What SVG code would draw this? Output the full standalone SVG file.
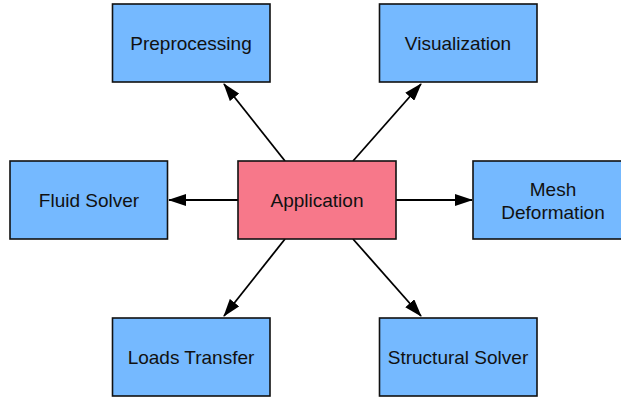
<svg xmlns="http://www.w3.org/2000/svg" width="621" height="398" viewBox="0 0 621 398">
  <style>
    .box { stroke: #111; stroke-width: 1.6; }
    .comp { fill: #75B9FF; }
    .app { fill: #F7788A; }
    text { font-family: "Liberation Sans", Arial, Helvetica, sans-serif; font-size: 19px; fill: #111; text-anchor: middle; }
    .edge { stroke: #000; stroke-width: 1.8; fill: none; marker-end: url(#arrow); }
  </style>
  <defs>
    <marker id="arrow" viewBox="0 0 18 12" refX="17" refY="6" markerWidth="18" markerHeight="12" markerUnits="userSpaceOnUse" orient="auto">
      <path d="M0,0 L18,6 L0,12 Z" fill="#000"/>
    </marker>
  </defs>

  <g id="connectors">
    <line class="edge" x1="285" y1="161" x2="224" y2="84"/>
    <line class="edge" x1="353" y1="161" x2="421" y2="84"/>
    <line class="edge" x1="238" y1="200" x2="169" y2="200"/>
    <line class="edge" x1="396" y1="200" x2="472" y2="200"/>
    <line class="edge" x1="285" y1="239" x2="224" y2="316"/>
    <line class="edge" x1="353" y1="239" x2="421" y2="316"/>
  </g>

  <g id="preprocessing">
    <rect class="box comp" x="112.5" y="4" width="157.5" height="78"/>
    <text x="191" y="50">Preprocessing</text>
  </g>
  <g id="visualization">
    <rect class="box comp" x="379.5" y="4" width="157.5" height="78"/>
    <text x="458" y="50">Visualization</text>
  </g>
  <g id="fluid-solver">
    <rect class="box comp" x="10" y="161" width="157.5" height="78"/>
    <text x="89" y="207">Fluid Solver</text>
  </g>
  <g id="application">
    <rect class="box app" x="238" y="161" width="158" height="78"/>
    <text x="317" y="207">Application</text>
  </g>
  <g id="mesh-deformation">
    <rect class="box comp" x="473" y="161" width="158" height="78"/>
    <text x="553" y="195.5">Mesh</text>
    <text x="553" y="218.5">Deformation</text>
  </g>
  <g id="loads-transfer">
    <rect class="box comp" x="112.5" y="318" width="157.5" height="78"/>
    <text x="191" y="364">Loads Transfer</text>
  </g>
  <g id="structural-solver">
    <rect class="box comp" x="379.5" y="318" width="157.5" height="78"/>
    <text x="458" y="364">Structural Solver</text>
  </g>
</svg>
